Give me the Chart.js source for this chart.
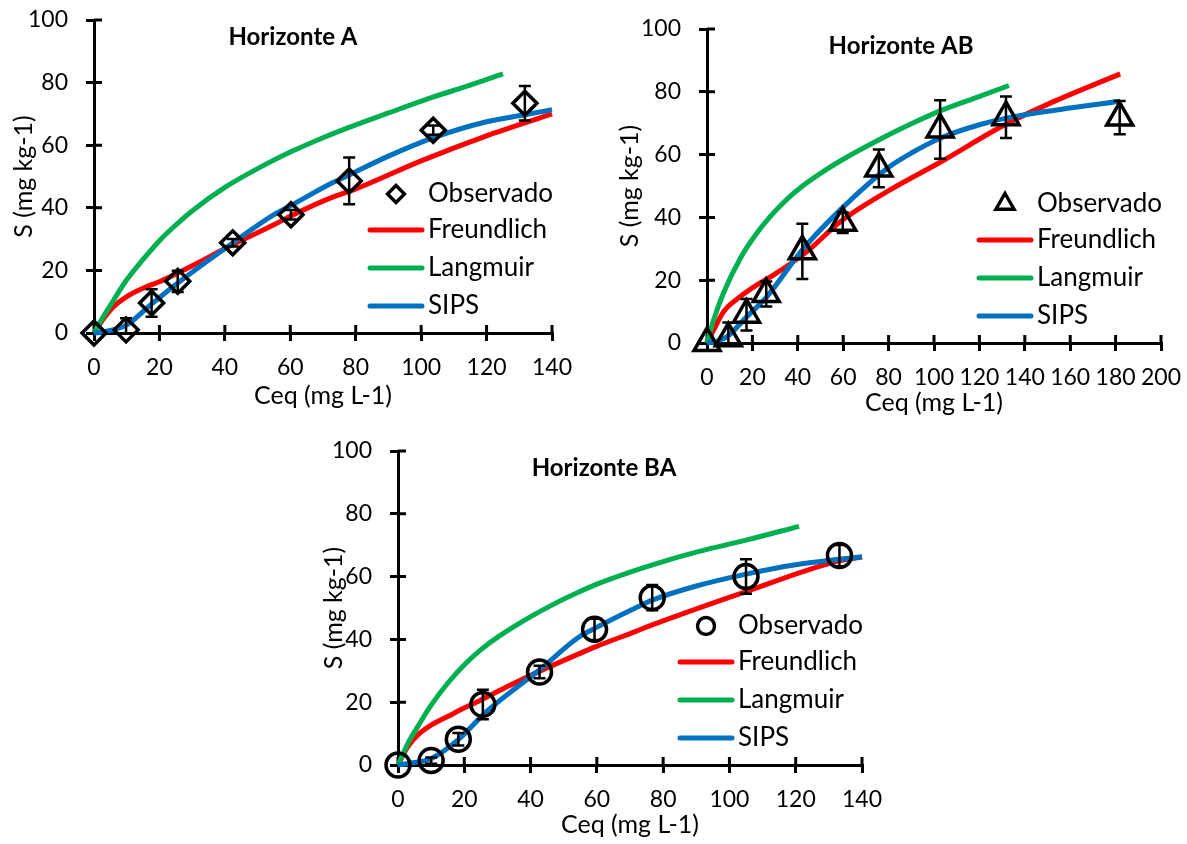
<!DOCTYPE html>
<html>
<head>
<meta charset="utf-8">
<script src="https://cdn.jsdelivr.net/npm/chart.js@4.4.1/dist/chart.umd.min.js"></script>
<style>
  html, body { margin: 0; padding: 0; background: #fff; width: 1187px; height: 844px; overflow: hidden; position: relative; }
  canvas { position: absolute; }
</style>
</head>
<body>
<canvas id="chartA"></canvas>
<canvas id="chartB"></canvas>
<canvas id="chartC"></canvas>
<script>
// ---- Horizonte A ----
const obsA_x = [0, 9.8, 17.6, 25.6, 42.4, 60.2, 78.0, 103.7, 131.7];
const obsA_y = [0, 1, 9.6, 16.5, 28.8, 37.8, 48.6, 64.8, 73.4];
const errA   = [0, 3.7, 4.4, 3.4, 1.2, 1.5, 7.5, 1.5, 5.5];
const freA_x = [0, 3, 6, 10, 15, 20, 25.5, 30.6, 42.3, 55, 60, 72, 80, 100, 120, 140];
const freA_y = [0, 4.7, 8.4, 11.6, 14.3, 16.4, 19.1, 21.8, 28.2, 34.6, 37.3, 43, 46, 55, 63, 70];
const lanA_x = [0, 3, 6, 10, 15, 20, 25, 30, 40, 50, 60, 70, 80, 90, 104, 115, 125];
const lanA_y = [0, 5.5, 10.5, 17, 23.5, 29.5, 34.5, 39, 46.5, 52.5, 57.8, 62.4, 66.5, 70.3, 75.5, 79.2, 82.8];
const sipA_x = [0, 3, 10, 17.3, 25.5, 42.3, 55, 60, 72, 78, 90, 104, 120, 132, 140];
const sipA_y = [0, 0.4, 2.6, 9, 15.9, 28.7, 37.8, 40.6, 47.5, 50.5, 56.5, 62.5, 67.5, 69.8, 71.3];

// ---- Horizonte AB ----
const obsB_x = [0, 9.4, 17.4, 26.1, 42.0, 59.8, 75.7, 102.7, 131.7, 181.8];
const obsB_y = [0, 1.5, 9, 15.6, 29.2, 38.3, 55.6, 68, 71.9, 71.8];
const errB   = [0, 5, 5, 4, 8.8, 3.3, 6, 9.3, 6.6, 5.3];
const freB_x = [0, 2.9, 7.3, 14.7, 22, 29.4, 44, 58.7, 79.3, 102.5, 132, 150, 182];
const freB_y = [0, 4.1, 10, 14.8, 18.5, 21.7, 29.1, 38.6, 48.2, 57.5, 69.8, 76, 85.7];
const lanB_x = [0, 2.9, 7.3, 14.7, 22, 29.4, 36, 44, 52, 60.2, 76, 90, 103, 118, 133];
const lanB_y = [0, 7.3, 16, 27, 35, 41.5, 46.3, 51, 55, 58.6, 64.8, 69.8, 74, 78, 82];
const sipB_x = [0, 4.3, 8.8, 17.6, 26.4, 41.9, 58.7, 79.3, 90, 103, 120, 132, 150, 182];
const sipB_y = [0, 0.5, 2, 8.4, 14.8, 29.6, 42.4, 55.6, 60.5, 65.3, 69.5, 71.6, 73.8, 77];

// ---- Horizonte BA ----
const obsC_x = [0, 10, 18.2, 25.6, 42.7, 59.3, 76.7, 105, 133.2];
const obsC_y = [0, 1.4, 8.2, 19.3, 29.6, 43.2, 53.3, 60, 66.7];
const errC   = [0, 1, 2, 4.7, 2, 3.4, 4, 5.5, 3.4];
const freC_x = [0, 3, 6, 10.1, 15.1, 20.1, 25.2, 33.2, 42.8, 54.4, 59.5, 71.6, 76.7, 105, 133, 140];
const freC_y = [0, 5.9, 9.6, 12.8, 15.5, 18.2, 20.8, 25.1, 29.9, 35.3, 37.6, 42.5, 44.6, 55.2, 65, 66.2];
const lanC_x = [0, 3, 6, 10.1, 15.1, 20.1, 25.2, 30.2, 40.3, 47.3, 54.4, 60, 71.6, 80, 90, 105, 121];
const lanC_y = [0, 6.9, 12.3, 19.2, 26.2, 32, 36.9, 40.8, 47.4, 51.4, 55, 57.6, 62, 64.8, 67.8, 71.6, 76];
const sipC_x = [0, 3, 10.1, 18.1, 26.7, 42.8, 54.4, 59.5, 71.6, 76.7, 90, 105, 120, 133, 140];
const sipC_y = [0, 0.5, 2.1, 8, 17, 30.4, 40.6, 43.6, 50, 52.5, 57, 60.8, 63.8, 65.5, 66.3];

const seriesNames = ['Observado', 'Freundlich', 'Langmuir', 'SIPS'];
const lineColors = ['#FF0000', '#00B050', '#0070C0'];

const FONT = 'Lato, "Open Sans", sans-serif';
Chart.defaults.font.family = FONT;
Chart.defaults.color = '#000';

function drawMarker(ctx, style, x, y, r) {
  ctx.beginPath();
  if (style === 'rectRot') {
    ctx.moveTo(x - r, y); ctx.lineTo(x, y - r); ctx.lineTo(x + r, y); ctx.lineTo(x, y + r); ctx.closePath();
  } else if (style === 'triangle') {
    ctx.moveTo(x, y - r); ctx.lineTo(x + r * 0.866, y + r / 2); ctx.lineTo(x - r * 0.866, y + r / 2); ctx.closePath();
  } else {
    ctx.arc(x, y, r, 0, Math.PI * 2);
  }
  ctx.stroke();
}

// tick marks that cross into the plot, like the Excel "cross" ticks
const innerTicks = {
  id: 'innerTicks',
  beforeDatasetsDraw(chart) {
    const { ctx, chartArea: a, scales: { x, y } } = chart;
    ctx.save();
    ctx.strokeStyle = '#000';
    ctx.lineWidth = 3;
    ctx.beginPath();
    x.ticks.forEach((t, i) => {
      const px = x.getPixelForTick(i);
      ctx.moveTo(px, a.bottom); ctx.lineTo(px, a.bottom - 8);
    });
    y.ticks.forEach((t, i) => {
      const py = y.getPixelForTick(i);
      ctx.moveTo(a.left, py); ctx.lineTo(a.left + 8, py);
    });
    ctx.stroke();
    ctx.restore();
  }
};

const errorBars = {
  id: 'errorBars',
  afterDatasetsDraw(chart) {
    const { ctx, chartArea: a, scales: { x, y } } = chart;
    const ds = chart.data.datasets[0];
    ctx.save();
    ctx.beginPath();
    ctx.rect(a.left - 20, a.top - 20, a.right - a.left + 40, a.bottom - a.top + 20);
    ctx.clip();
    ctx.strokeStyle = '#000';
    ctx.lineWidth = 2.5;
    ds.data.forEach((p, i) => {
      const e = ds.errors[i];
      if (!e) return;
      const px = x.getPixelForValue(p.x);
      const top = y.getPixelForValue(p.y + e);
      const bot = y.getPixelForValue(p.y - e);
      ctx.beginPath();
      ctx.moveTo(px, top); ctx.lineTo(px, bot);
      ctx.moveTo(px - 6, top); ctx.lineTo(px + 6, top);
      ctx.moveTo(px - 6, bot); ctx.lineTo(px + 6, bot);
      ctx.stroke();
    });
    ctx.restore();
  }
};

const panelDecor = {
  id: 'panelDecor',
  afterDraw(chart, args, opts) {
    const { ctx, chartArea: a } = chart;
    const ds = chart.data.datasets;
    ctx.save();
    // panel title
    ctx.fillStyle = '#000';
    ctx.font = 'bold 24px ' + FONT;
    ctx.textAlign = 'center';
    ctx.textBaseline = 'middle';
    ctx.fillText(opts.title, a.left + opts.titleDx, a.top + 17);
    // legend inside plot
    const rows = [-139, -103, -65, -27];
    ctx.font = '26px ' + FONT;
    ctx.textAlign = 'left';
    ds.forEach((d, i) => {
      const yy = a.bottom + rows[i];
      if (i === 0) {
        ctx.strokeStyle = '#000';
        ctx.lineWidth = 3.4;
        drawMarker(ctx, d.pointStyle, a.right - 156, yy, opts.legendR);
      } else {
        ctx.strokeStyle = d.borderColor;
        ctx.lineWidth = 5;
        ctx.lineCap = 'round';
        ctx.beginPath();
        ctx.moveTo(a.right - 182, yy); ctx.lineTo(a.right - 130, yy);
        ctx.stroke();
      }
      ctx.fillText(d.label, a.right - 124, yy);
    });
    ctx.restore();
  }
};

const pts = (xs, ys) => xs.map((v, i) => ({ x: v, y: ys[i] }));

function makePanel(id, p) {
  const el = document.getElementById(id);
  el.width = p.w; el.height = p.h;
  el.style.left = p.left + 'px'; el.style.top = p.top + 'px';
  const curve = (name, xs, ys, color, order) => ({
    label: name, data: pts(xs, ys), showLine: true, borderColor: color, backgroundColor: color,
    borderWidth: 5, pointRadius: 0, cubicInterpolationMode: 'monotone', fill: false, clip: false, order
  });
  return new Chart(el, {
    type: 'scatter',
    data: {
      datasets: [
        { label: seriesNames[0], data: pts(p.obsX, p.obsY), errors: p.err, pointStyle: p.marker,
          pointRadius: p.r, pointBorderWidth: 3.5, borderColor: '#000', backgroundColor: 'rgba(0,0,0,0)',
          pointHoverRadius: p.r, clip: false, order: 0 },
        curve(seriesNames[1], p.fre[0], p.fre[1], lineColors[0], 3),
        curve(seriesNames[2], p.lan[0], p.lan[1], lineColors[1], 2),
        curve(seriesNames[3], p.sip[0], p.sip[1], lineColors[2], 1)
      ]
    },
    options: {
      responsive: false,
      animation: false,
      events: [],
      layout: { padding: { top: 20, right: p.padR, left: 0, bottom: 0 } },
      plugins: {
        legend: { display: false },
        tooltip: { enabled: false },
        panelDecor: { title: p.title, titleDx: p.titleDx, legendR: p.legendR }
      },
      scales: {
        x: {
          type: 'linear', min: 0, max: p.xMax,
          ticks: { stepSize: 20, padding: 13, maxRotation: 0, autoSkip: false, color: '#000', font: { size: 23 } },
          grid: { drawOnChartArea: false, drawTicks: true, tickLength: 8, color: '#000', lineWidth: 3 },
          border: { color: '#000', width: 3 },
          title: { display: true, text: 'Ceq (mg L-1)', color: '#000', font: { size: 25 }, padding: { top: 0, bottom: 2 } },
          afterFit(s) { s.height = p.hx; s.paddingLeft = 0; s.paddingRight = 0; }
        },
        y: {
          type: 'linear', min: 0, max: 100,
          ticks: { stepSize: 20, padding: 18, color: '#000', font: { size: 23 } },
          grid: { drawOnChartArea: false, drawTicks: true, tickLength: 8, color: '#000', lineWidth: 3 },
          border: { color: '#000', width: 3 },
          title: { display: true, text: 'S (mg kg-1)', color: '#000', font: { size: 25 }, padding: { top: 2, bottom: 0 } },
          afterFit(s) { s.width = p.wy; s.paddingTop = 0; s.paddingBottom = 0; }
        }
      }
    },
    plugins: [innerTicks, errorBars, panelDecor]
  });
}

makePanel('chartA', {
  left: 7, top: 0, w: 583, h: 413, wy: 87, hx: 80, padR: 38, xMax: 140,
  title: 'Horizonte A', titleDx: 199, marker: 'rectRot', r: 12, legendR: 8.5,
  obsX: obsA_x, obsY: obsA_y, err: errA,
  fre: [freA_x, freA_y], lan: [lanA_x, lanA_y], sip: [sipA_x, sipA_y]
});
makePanel('chartB', {
  left: 613, top: 9, w: 572, h: 411, wy: 94, hx: 77, padR: 24, xMax: 200,
  title: 'Horizonte AB', titleDx: 194, marker: 'triangle', r: 15, legendR: 10.5,
  obsX: obsB_x, obsY: obsB_y, err: errB,
  fre: [freB_x, freB_y], lan: [lanB_x, lanB_y], sip: [sipB_x, sipB_y]
});
makePanel('chartC', {
  left: 317, top: 431, w: 575, h: 411, wy: 81, hx: 77, padR: 30, xMax: 140,
  title: 'Horizonte BA', titleDx: 206, marker: 'circle', r: 12, legendR: 8.5,
  obsX: obsC_x, obsY: obsC_y, err: errC,
  fre: [freC_x, freC_y], lan: [lanC_x, lanC_y], sip: [sipC_x, sipC_y]
});
</script>
</body>
</html>
